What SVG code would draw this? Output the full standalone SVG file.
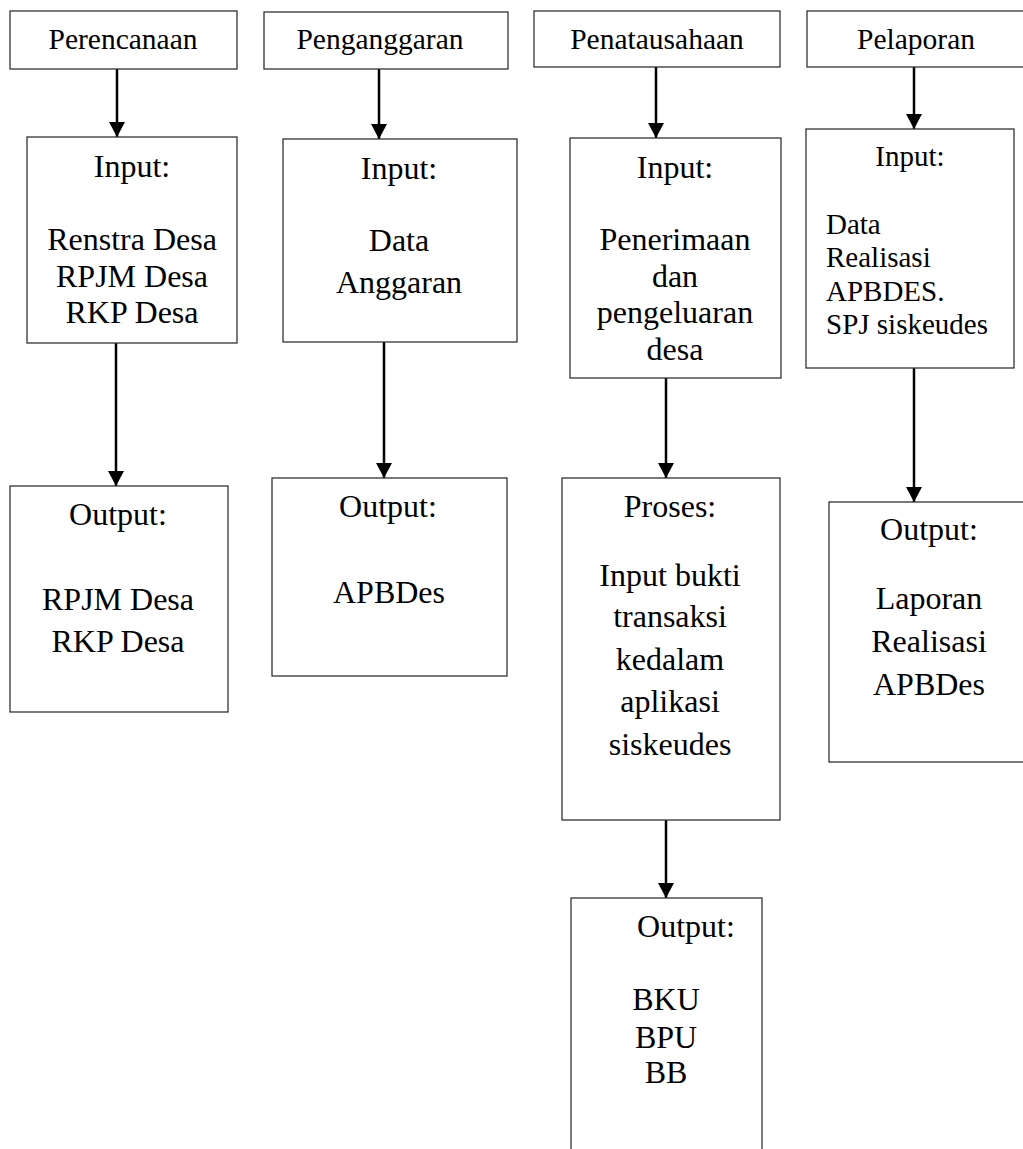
<svg xmlns="http://www.w3.org/2000/svg" width="1023" height="1149" viewBox="0 0 1023 1149">
<style>
.box{fill:#fff;stroke:#333;stroke-width:1.3}
.t{font-family:"Liberation Serif","Times New Roman",serif;fill:#000;text-anchor:middle}
.h{font-size:29.5px}
.b{font-size:32px}
.s{font-size:29px}
.l{text-anchor:start}
.c{stroke:#000;stroke-width:2.5;fill:none;marker-end:url(#ah)}
</style>
<defs>
<marker id="ah" markerUnits="userSpaceOnUse" markerWidth="16" markerHeight="17" refX="15" refY="8" orient="auto">
<path d="M0,0 L15,8 L0,16 z" fill="#000"/>
</marker>
</defs>
<rect width="1023" height="1149" fill="#fff"/>
<g id="connectors">
<line class="c" x1="117" y1="69" x2="117" y2="137"/>
<line class="c" x1="379" y1="69" x2="379" y2="139"/>
<line class="c" x1="656" y1="67" x2="656" y2="138"/>
<line class="c" x1="914" y1="67" x2="914" y2="129"/>
<line class="c" x1="116" y1="343" x2="116" y2="486"/>
<line class="c" x1="384" y1="342" x2="384" y2="478"/>
<line class="c" x1="666" y1="378" x2="666" y2="478"/>
<line class="c" x1="914" y1="368" x2="914" y2="502"/>
<line class="c" x1="666" y1="820" x2="666" y2="898"/>
</g>
<g id="perencanaan">
<rect class="box" x="10" y="11" width="227" height="58"/>
<text class="t h" x="123" y="49">Perencanaan</text>
</g>
<g id="penganggaran">
<rect class="box" x="264" y="12" width="244" height="57"/>
<text class="t h" x="380" y="49">Penganggaran</text>
</g>
<g id="penatausahaan">
<rect class="box" x="534" y="11" width="246" height="56"/>
<text class="t h" x="657" y="49">Penatausahaan</text>
</g>
<g id="pelaporan">
<rect class="box" x="807" y="11" width="230" height="56"/>
<text class="t h" x="916" y="49">Pelaporan</text>
</g>
<g id="input-perencanaan">
<rect class="box" x="27" y="137" width="210" height="206"/>
<text class="t b" x="132" y="177">Input:</text>
<text class="t b" x="132" y="250">Renstra Desa</text>
<text class="t b" x="132" y="287">RPJM Desa</text>
<text class="t b" x="132" y="323">RKP Desa</text>
</g>
<g id="input-penganggaran">
<rect class="box" x="283" y="139" width="234" height="203"/>
<text class="t b" x="399" y="179">Input:</text>
<text class="t b" x="399" y="251">Data</text>
<text class="t b" x="399" y="293">Anggaran</text>
</g>
<g id="input-penatausahaan">
<rect class="box" x="570" y="138" width="211" height="240"/>
<text class="t b" x="675" y="178">Input:</text>
<text class="t b" x="675" y="250">Penerimaan</text>
<text class="t b" x="675" y="287">dan</text>
<text class="t b" x="675" y="323">pengeluaran</text>
<text class="t b" x="675" y="360">desa</text>
</g>
<g id="input-pelaporan">
<rect class="box" x="806" y="129" width="208" height="239"/>
<text class="t s" x="910" y="166">Input:</text>
<text class="t s l" x="826" y="234">Data</text>
<text class="t s l" x="826" y="267">Realisasi</text>
<text class="t s l" x="826" y="301">APBDES.</text>
<text class="t s l" x="826" y="334">SPJ siskeudes</text>
</g>
<g id="output-perencanaan">
<rect class="box" x="10" y="486" width="218" height="226"/>
<text class="t b" x="118" y="525">Output:</text>
<text class="t b" x="118" y="610">RPJM Desa</text>
<text class="t b" x="118" y="652">RKP Desa</text>
</g>
<g id="output-penganggaran">
<rect class="box" x="272" y="478" width="235" height="198"/>
<text class="t b" x="388" y="517">Output:</text>
<text class="t b" x="389" y="603">APBDes</text>
</g>
<g id="proses-penatausahaan">
<rect class="box" x="562" y="478" width="218" height="342"/>
<text class="t b" x="670" y="517">Proses:</text>
<text class="t b" x="670" y="586">Input bukti</text>
<text class="t b" x="670" y="627">transaksi</text>
<text class="t b" x="670" y="670">kedalam</text>
<text class="t b" x="670" y="712">aplikasi</text>
<text class="t b" x="670" y="755">siskeudes</text>
</g>
<g id="output-pelaporan">
<rect class="box" x="829" y="502" width="210" height="260"/>
<text class="t b" x="929" y="540">Output:</text>
<text class="t b" x="929" y="609">Laporan</text>
<text class="t b" x="929" y="652">Realisasi</text>
<text class="t b" x="929" y="695">APBDes</text>
</g>
<g id="output-penatausahaan">
<rect class="box" x="571" y="898" width="191" height="270"/>
<text class="t b" x="686" y="937">Output:</text>
<text class="t b" x="666" y="1010">BKU</text>
<text class="t b" x="666" y="1048">BPU</text>
<text class="t b" x="666" y="1083">BB</text>
</g>
</svg>
